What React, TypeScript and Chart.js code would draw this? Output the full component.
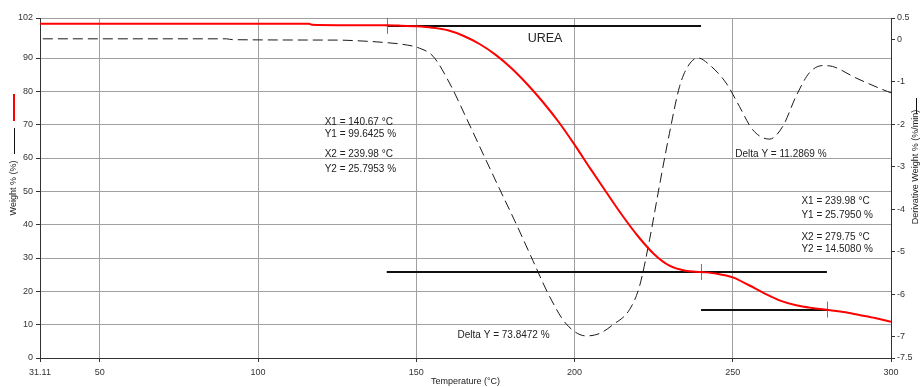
import React, { useEffect, useRef } from 'react';
import { Chart, registerables } from 'chart.js';

Chart.register(...registerables);

// ---- Data ----
const weightTemps = [31.11, 116, 117, 140.67, 145, 150, 155, 160, 165, 170, 175, 180, 185, 190, 195, 200, 205, 210, 215, 220, 225, 230, 235, 239.98, 245, 250, 255, 260, 265, 270, 275, 279.75, 285, 290, 295, 300];
const weightValues = [100.3, 100.3, 100.0, 99.8, 99.7, 99.5, 99.1, 98.3, 96.6, 94.2, 91.0, 87.0, 82.2, 76.8, 70.8, 64.0, 56.8, 49.8, 42.9, 36.6, 31.3, 27.7, 26.2, 25.8, 25.3, 24.2, 21.9, 19.4, 17.2, 15.8, 15.0, 14.5, 13.8, 12.9, 12.0, 10.9];

const derivTemps = [32, 90, 92, 125, 135, 140.67, 144.7, 151, 155.3, 160.5, 165.8, 171, 176.3, 181.6, 186.8, 192.1, 197.4, 203.7, 208, 212.1, 217.4, 220.5, 223.7, 226.8, 230, 233.2, 235.8, 239, 242.6, 247.9, 252.1, 256.3, 261.6, 265.8, 270, 274.2, 278.4, 281.5, 288.9, 298.9, 300];
const derivValues = [0.01, 0.01, -0.01, -0.02, -0.05, -0.08, -0.11, -0.21, -0.40, -1.03, -1.85, -2.68, -3.52, -4.35, -5.2, -6.05, -6.7, -6.98, -6.92, -6.72, -6.36, -5.82, -4.72, -3.46, -2.21, -1.11, -0.64, -0.44, -0.60, -1.03, -1.58, -2.13, -2.35, -2.05, -1.34, -0.79, -0.62, -0.64, -0.91, -1.23, -1.26];

const xTickValues = [31.11, 50, 100, 150, 200, 250, 300];
const xTickLabels = ['31.11', '50', '100', '150', '200', '250', '300'];
const yTickValues = [0, 10, 20, 30, 40, 50, 60, 70, 80, 90, 102];
const yTickLabels = ['0', '10', '20', '30', '40', '50', '60', '70', '80', '90', '102'];
const y2TickValues = [0.5, 0, -1, -2, -3, -4, -5, -6, -7, -7.5];
const y2TickLabels = ['0.5', '0', '-1', '-2', '-3', '-4', '-5', '-6', '-7', '-7.5'];

// step analyses
const stepX1 = [140.67, 239.98];
const stepX2 = [239.98, 279.75];
const stepY1 = [99.6425, 25.795];
const stepY2 = [25.7953, 14.508];

const FONT = '"Liberation Sans", Arial, sans-serif';
const TEXT = '#222';

const annotPlugin = {
  id: 'annot',
  beforeDatasetsDraw(chart: any) {
    const ctx = chart.ctx;
    const xs = chart.scales.x;
    const ys = chart.scales.y;
    ctx.save();
    ctx.strokeStyle = '#111';
    ctx.lineWidth = 2;
    for (let i = 0; i < stepX1.length; i++) {
      const a = xs.getPixelForValue(stepX1[i]);
      const b = xs.getPixelForValue(stepX2[i]);
      for (const v of [stepY1[i], stepY2[i]]) {
        const py = Math.round(ys.getPixelForValue(v));
        ctx.beginPath();
        ctx.moveTo(a, py);
        ctx.lineTo(b, py);
        ctx.stroke();
      }
    }
    ctx.strokeStyle = '#777';
    ctx.lineWidth = 1;
    for (let i = 0; i < stepX1.length; i++) {
      const pts = [[stepX1[i], stepY1[i]], [stepX2[i], stepY2[i]]];
      for (const [tx, ty] of pts) {
        const px = Math.round(xs.getPixelForValue(tx)) + 0.5;
        const py = ys.getPixelForValue(ty);
        ctx.beginPath();
        ctx.moveTo(px, py - 8);
        ctx.lineTo(px, py + 8);
        ctx.stroke();
      }
    }
    ctx.restore();
  },
  afterDatasetsDraw(chart: any) {
    const ctx = chart.ctx;
    const xs = chart.scales.x;
    const ys = chart.scales.y;
    const P = (t: number, v: number) => [xs.getPixelForValue(t), ys.getPixelForValue(v)];
    ctx.save();
    ctx.fillStyle = TEXT;
    ctx.textBaseline = 'middle';
    ctx.textAlign = 'left';
    ctx.font = '12.5px ' + FONT;
    let [px, py] = P(185.2, 95.8);
    ctx.fillText('UREA', px, py);
    ctx.font = '10px ' + FONT;
    const block1 = ['X1 = 140.67 °C', 'Y1 = 99.6425 %', 'X2 = 239.98 °C', 'Y2 = 25.7953 %'];
    const block1V = [70.7, 67.2, 61.2, 56.5];
    block1.forEach((s, i) => { const [x, y] = P(121.05, block1V[i]); ctx.fillText(s, x, y); });
    [px, py] = P(250.8, 61.0);
    ctx.fillText('Delta Y = 11.2869 %', px, py);
    const block2 = ['X1 = 239.98 °C', 'Y1 = 25.7950 %', 'X2 = 279.75 °C', 'Y2 = 14.5080 %'];
    const block2V = [47.0, 42.7, 36.2, 32.5];
    block2.forEach((s, i) => { const [x, y] = P(271.7, block2V[i]); ctx.fillText(s, x, y); });
    [px, py] = P(163.05, 6.8);
    ctx.fillText('Delta Y = 73.8472 %', px, py);
    ctx.restore();
  },
  afterDraw(chart: any) {
    const ctx = chart.ctx;
    const ca = chart.chartArea;
    ctx.save();
    // left axis title with legend marks
    ctx.strokeStyle = '#ff0000';
    ctx.lineWidth = 2;
    ctx.beginPath(); ctx.moveTo(14, 94); ctx.lineTo(14, 121); ctx.stroke();
    ctx.strokeStyle = '#111';
    ctx.lineWidth = 1;
    ctx.beginPath(); ctx.moveTo(14.5, 128); ctx.lineTo(14.5, 154); ctx.stroke();
    ctx.fillStyle = TEXT;
    ctx.font = '9px ' + FONT;
    ctx.textAlign = 'center';
    ctx.textBaseline = 'middle';
    ctx.save();
    ctx.translate(14, 188);
    ctx.rotate(-Math.PI / 2);
    ctx.fillText('Weight % (%)', 0, 0);
    ctx.restore();
    // right axis title
    ctx.beginPath(); ctx.moveTo(916.5, 98); ctx.lineTo(916.5, 114); ctx.stroke();
    ctx.save();
    ctx.translate(916, 167);
    ctx.rotate(-Math.PI / 2);
    ctx.fillText('Derivative Weight % (%/min)', 0, 0);
    ctx.restore();
    // x title
    ctx.fillText('Temperature (°C)', (ca.left + ca.right) / 2, 382);
    ctx.restore();
  },
};

export default function App() {
  const ref = useRef<HTMLCanvasElement | null>(null);
  useEffect(() => {
    if (!ref.current) return;
    const tickFont = { family: FONT, size: 9 };
    const chart = new Chart(ref.current, {
      type: 'line',
      data: {
        datasets: [
          {
            label: 'Weight',
            data: weightTemps.map((t, i) => ({ x: t, y: weightValues[i] })),
            borderColor: '#ff0000',
            borderWidth: 2,
            pointRadius: 0,
            cubicInterpolationMode: 'monotone',
            yAxisID: 'y',
            fill: false,
          },
          {
            label: 'Derivative',
            data: derivTemps.map((t, i) => ({ x: t, y: derivValues[i] })),
            borderColor: '#1a1a1a',
            borderWidth: 1,
            borderDash: [10, 5],
            pointRadius: 0,
            cubicInterpolationMode: 'monotone',
            yAxisID: 'y2',
            fill: false,
          },
        ],
      } as any,
      options: {
        animation: false,
        responsive: false,
        devicePixelRatio: 1,
        layout: { padding: { top: 18, left: 0, right: 0, bottom: 0 } },
        plugins: { legend: { display: false }, tooltip: { enabled: false } },
        scales: {
          x: {
            type: 'linear',
            min: 31.11,
            max: 300,
            afterBuildTicks: (s: any) => { s.ticks = xTickValues.map((v) => ({ value: v })); },
            afterFit: (s: any) => { s.height = 29; },
            ticks: {
              autoSkip: false, maxRotation: 0, padding: 5, font: tickFont, color: '#333',
              callback: (_v: any, i: number) => xTickLabels[i],
            },
            grid: { color: '#a0a0a0', tickColor: '#333', tickLength: 4, lineWidth: 1 },
            border: { color: '#333' },
          },
          y: {
            position: 'left',
            min: 0,
            max: 102,
            afterBuildTicks: (s: any) => { s.ticks = yTickValues.map((v) => ({ value: v })); },
            afterFit: (s: any) => { s.width = 40; },
            ticks: {
              autoSkip: false, padding: 3, font: tickFont, color: '#333',
              callback: (_v: any, i: number) => yTickLabels[i],
            },
            grid: { color: '#a0a0a0', tickColor: '#333', tickLength: 4, lineWidth: 1 },
            border: { color: '#333' },
          },
          y2: {
            position: 'right',
            min: -7.5,
            max: 0.5,
            afterBuildTicks: (s: any) => { s.ticks = y2TickValues.map((v) => ({ value: v })); },
            afterFit: (s: any) => { s.width = 29; },
            ticks: {
              autoSkip: false, padding: 2, font: tickFont, color: '#333',
              callback: (_v: any, i: number) => y2TickLabels[i],
            },
            grid: { drawOnChartArea: false, tickColor: '#333', tickLength: 4 },
            border: { color: '#333' },
          },
        },
      } as any,
      plugins: [annotPlugin],
    });
    return () => chart.destroy();
  }, []);
  return (
    <div style={{ position: 'fixed', left: 0, top: 0, width: 920, height: 387, background: '#fff' }}>
      <canvas ref={ref} width={920} height={387} style={{ display: 'block' }} />
    </div>
  );
}
